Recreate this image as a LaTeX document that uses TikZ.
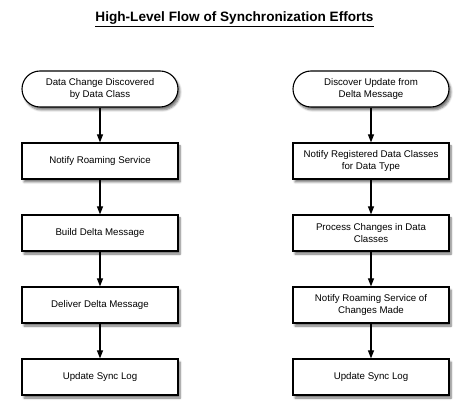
\documentclass[tikz,border=0pt]{standalone}
\usepackage{fontspec}
\setmainfont{Liberation Sans}
\usetikzlibrary{arrows.meta,shadows.blur}
\tikzset{
  flowbox/.style={draw=black, line width=1.1pt, fill=white, minimum width=156pt,
    minimum height=36pt, align=center, inner sep=2pt,
    font=\fontsize{9.7}{11.5}\selectfont,
    blur shadow={shadow xshift=2pt, shadow yshift=-3pt, shadow blur steps=6, shadow opacity=55}},
  endbox/.style={flowbox, rounded corners=18pt},
  flowarrow/.style={line width=1.1pt, -{Triangle[width=6pt,length=8pt]}}
}
\begin{document}
\begin{tikzpicture}[x=1pt,y=-1pt]
  \useasboundingbox (0,0) rectangle (469,419);

  % Drawing title
  \node (title) at (234.5,19) {\fontsize{13.6}{15}\selectfont\bfseries\underline{High-Level Flow of Synchronization Efforts}};

  % Drawing left column (sending side)
  \node [endbox]  (dchange)  at (100,89)  {Data Change Discovered\\by Data Class};
  \node [flowbox] (notifyrs) at (100,161) {Notify Roaming Service};
  \node [flowbox] (builddm)  at (100,233) {Build Delta Message};
  \node [flowbox] (deliver)  at (100,305) {Deliver Delta Message};
  \node [flowbox] (logleft)  at (100,377) {Update Sync Log};

  % Drawing right column (receiving side)
  \node [endbox]  (discover) at (371,89)  {Discover Update from\\Delta Message};
  \node [flowbox] (notifydc) at (371,161) {Notify Registered Data Classes\\for Data Type};
  \node [flowbox] (process)  at (371,233) {Process Changes in Data\\Classes};
  \node [flowbox] (notifyrc) at (371,305) {Notify Roaming Service of\\Changes Made};
  \node [flowbox] (logright) at (371,377) {Update Sync Log};

  % Drawing arrows
  \draw [flowarrow] (dchange)  -- (notifyrs);
  \draw [flowarrow] (notifyrs) -- (builddm);
  \draw [flowarrow] (builddm)  -- (deliver);
  \draw [flowarrow] (deliver)  -- (logleft);

  \draw [flowarrow] (discover) -- (notifydc);
  \draw [flowarrow] (notifydc) -- (process);
  \draw [flowarrow] (process)  -- (notifyrc);
  \draw [flowarrow] (notifyrc) -- (logright);
\end{tikzpicture}
\end{document}
